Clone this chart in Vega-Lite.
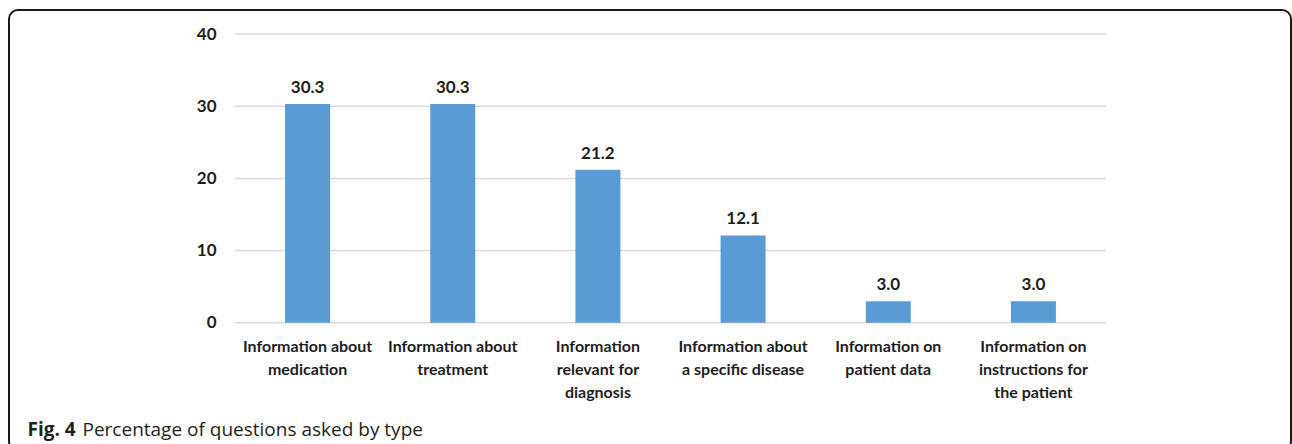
{
  "$schema": "https://vega.github.io/schema/vega-lite/v6.json",
  "width": 1282,
  "height": 440,
  "autosize": {"type": "none"},
  "padding": {"left": 9, "top": 10, "right": 1, "bottom": -6},
  "background": "white",
  "config": {"view": {"stroke": "#1a1a1a", "strokeWidth": 2, "cornerRadius": 9}, "font": "Lato"},
  "datasets": {
    "bars": [
      {"type": "Information about medication", "percent": 30.3},
      {"type": "Information about treatment", "percent": 30.3},
      {"type": "Information relevant for diagnosis", "percent": 21.2},
      {"type": "Information about a specific disease", "percent": 12.1},
      {"type": "Information on patient data", "percent": 3.0},
      {"type": "Information on instructions for the patient", "percent": 3.0}
    ],
    "grid": [{"g": 0}, {"g": 10}, {"g": 20}, {"g": 30}, {"g": 40}]
  },
  "layer": [
    {
      "data": {"name": "grid"},
      "mark": {"type": "rule", "color": "#d9d9d9", "strokeWidth": 1.5},
      "encoding": {
        "y": {"field": "g", "type": "quantitative"},
        "x": {"datum": "Information about medication", "type": "nominal", "bandPosition": 0},
        "x2": {"datum": "Information on instructions for the patient", "bandPosition": 1}
      }
    },
    {
      "data": {"name": "bars"},
      "mark": {"type": "bar", "width": 45, "color": "#5b9bd5"},
      "encoding": {
        "x": {
          "field": "type",
          "type": "nominal",
          "sort": null,
          "scale": {
            "type": "band",
            "domain": ["Information about medication", "Information about treatment", "Information relevant for diagnosis", "Information about a specific disease", "Information on patient data", "Information on instructions for the patient"],
            "range": [226, 1097],
            "paddingInner": 0,
            "paddingOuter": 0
          },
          "axis": {
            "orient": "bottom",
            "offset": -127,
            "domain": false,
            "grid": false,
            "ticks": false,
            "tickSize": 0,
            "labelPadding": 23,
            "labelAngle": 0,
            "labelAlign": "center",
            "labelFont": "Lato",
            "labelFontSize": 16,
            "labelFontWeight": "bold",
            "labelColor": "#1e1e1e",
            "labelLineHeight": 23,
            "labelOverlap": false,
            "labelLimit": 400,
            "labelExpr": "{'Information about medication': ['Information about', 'medication'], 'Information about treatment': ['Information about', 'treatment'], 'Information relevant for diagnosis': ['Information', 'relevant for', 'diagnosis'], 'Information about a specific disease': ['Information about', 'a specific disease'], 'Information on patient data': ['Information on', 'patient data'], 'Information on instructions for the patient': ['Information on', 'instructions for', 'the patient']}[datum.label]",
            "title": "Percentage of questions asked by type",
            "titleX": 73,
            "titleY": 112.5,
            "titleAlign": "left",
            "titleBaseline": "alphabetic",
            "titleFont": "Open Sans",
            "titleFontSize": 19,
            "titleFontWeight": "normal",
            "titleColor": "#231f20"
          }
        },
        "y": {
          "field": "percent",
          "type": "quantitative",
          "scale": {"domain": [0, 40], "range": [312.8, 24], "nice": false, "zero": true},
          "axis": {
            "grid": false,
            "domain": false,
            "ticks": false,
            "tickSize": 0,
            "values": [0, 10, 20, 30, 40],
            "offset": -207,
            "labelPadding": 0,
            "labelFont": "Lato",
            "labelFontWeight": "bold",
            "labelFontSize": 17,
            "labelColor": "#1e1e1e",
            "title": "Fig. 4",
            "titleAngle": 0,
            "titleX": -189,
            "titleY": 425.5,
            "titleAlign": "left",
            "titleBaseline": "alphabetic",
            "titleFont": "Open Sans",
            "titleFontSize": 19,
            "titleFontWeight": "bold",
            "titleColor": "#231f20"
          }
        }
      }
    },
    {
      "data": {"name": "bars"},
      "mark": {"type": "text", "font": "Lato", "fontWeight": "bold", "fontSize": 17, "baseline": "bottom", "dy": -7, "color": "#1e1e1e"},
      "encoding": {
        "x": {"field": "type", "type": "nominal"},
        "y": {"field": "percent", "type": "quantitative"},
        "text": {"field": "percent", "type": "quantitative", "format": ".1f"}
      }
    }
  ]
}
